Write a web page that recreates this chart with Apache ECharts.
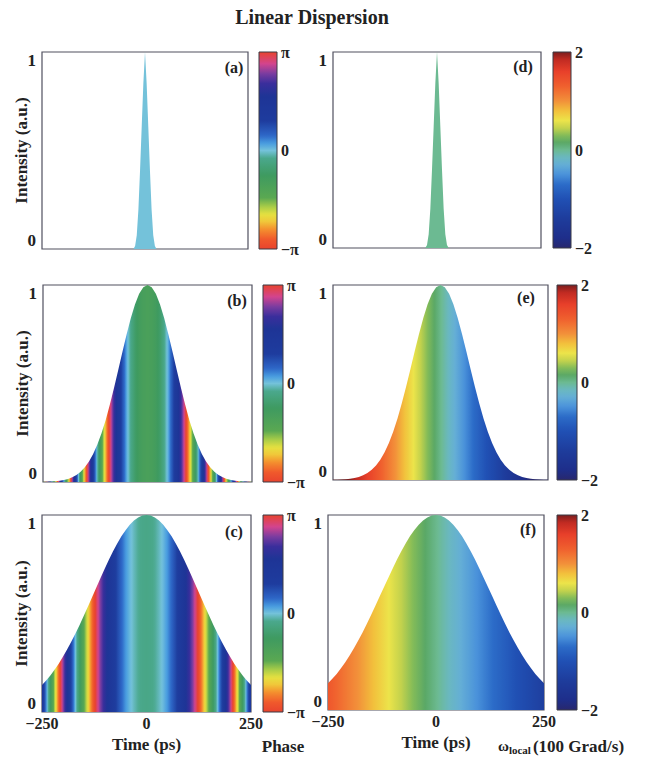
<!DOCTYPE html>
<html>
<head>
<meta charset="utf-8">
<script src="https://cdn.jsdelivr.net/npm/echarts@6/dist/echarts.min.js"></script>
<style>
  html, body { margin: 0; padding: 0; background: #ffffff; }
  #chart { width: 648px; height: 758px; }
</style>
</head>
<body>
<div id="chart"></div>
<script>
// ---- pulse data -------------------------------------------------------
// time samples for the broadened pulses (ps)
const timePs = [-250, -240, -230, -220, -210, -200, -190, -180, -170, -160, -150, -140, -130, -120, -110, -100, -90, -80, -70, -60, -50, -40, -30, -20, -10,
  0, 10, 20, 30, 40, 50, 60, 70, 80, 90, 100, 110, 120, 130, 140, 150, 160, 170, 180, 190, 200, 210, 220, 230, 240, 250];

// intensity of the pulse at the first propagation distance, rows (b) and (e)
const intensityB = [0.0007, 0.0013, 0.0022, 0.0037, 0.0061, 0.0099, 0.0155, 0.0238, 0.0356, 0.0521, 0.0745, 0.104, 0.142, 0.190, 0.248, 0.315, 0.393, 0.478, 0.568, 0.660, 0.749, 0.831, 0.901, 0.955, 0.989,
  1.000, 0.989, 0.955, 0.901, 0.831, 0.749, 0.660, 0.568, 0.478, 0.393, 0.315, 0.248, 0.190, 0.142, 0.104, 0.0745, 0.0521, 0.0356, 0.0238, 0.0155, 0.0099, 0.0061, 0.0037, 0.0022, 0.0013, 0.0007];

// intensity of the pulse at the second propagation distance, rows (c) and (f)
const intensityC = [0.137, 0.160, 0.185, 0.214, 0.245, 0.280, 0.317, 0.356, 0.398, 0.442, 0.488, 0.536, 0.584, 0.632, 0.680, 0.727, 0.773, 0.816, 0.855, 0.892, 0.923, 0.950, 0.972, 0.987, 0.997,
  1.000, 0.997, 0.987, 0.972, 0.950, 0.923, 0.892, 0.855, 0.816, 0.773, 0.727, 0.680, 0.632, 0.584, 0.536, 0.488, 0.442, 0.398, 0.356, 0.317, 0.280, 0.245, 0.214, 0.185, 0.160, 0.137];

// unwrapped temporal phase, in units of pi
const phaseB = [9.65, 8.87, 8.11, 7.39, 6.71, 6.05, 5.43, 4.83, 4.27, 3.75, 3.25, 2.79, 2.35, 1.95, 1.59, 1.25, 0.95, 0.67, 0.43, 0.23, 0.05, -0.09, -0.21, -0.29, -0.33,
  -0.35, -0.33, -0.29, -0.21, -0.09, 0.05, 0.23, 0.43, 0.67, 0.95, 1.25, 1.59, 1.95, 2.35, 2.79, 3.25, 3.75, 4.27, 4.83, 5.43, 6.05, 6.71, 7.39, 8.11, 8.87, 9.65];
const phaseC = [4.46, 4.10, 3.76, 3.43, 3.12, 2.82, 2.54, 2.27, 2.01, 1.77, 1.54, 1.33, 1.13, 0.95, 0.78, 0.63, 0.49, 0.37, 0.26, 0.16, 0.08, 0.02, -0.03, -0.07, -0.09,
  -0.10, -0.09, -0.07, -0.03, 0.02, 0.08, 0.16, 0.26, 0.37, 0.49, 0.63, 0.78, 0.95, 1.13, 1.33, 1.54, 1.77, 2.01, 2.27, 2.54, 2.82, 3.12, 3.43, 3.76, 4.10, 4.46];

// local angular frequency, in units of 100 Grad/s
const freqTimes = [-250, -200, -150, -100, -50, 0, 50, 100, 150, 200, 250];
const freqE = [2.35, 1.88, 1.42, 0.95, 0.48, 0.02, -0.45, -0.93, -1.40, -1.88, -2.35];
const freqF = [1.38, 1.10, 0.83, 0.55, 0.28, 0.02, -0.26, -0.53, -0.80, -1.08, -1.35];

// input (transform-limited) pulse, rows (a) and (d)
const timeNarrow = [-250, -28, -24, -20, -16, -12, -8, -4, 0, 4, 8, 12, 16, 20, 24, 28, 250];
const intensityA = [0, 0, 0.015, 0.07, 0.20, 0.40, 0.62, 0.84, 1, 0.84, 0.62, 0.40, 0.20, 0.07, 0.015, 0, 0];
const phaseA = 0.0;
const freqD = 0.0;

// axis tick labels
const timeTicks = [-250, 0, 250];
const phaseTickLabels = { '-1': '\u2212\u03c0', '0': '0', '1': '\u03c0' };
const freqTickLabels = { '-2': '\u22122', '0': '0', '2': '2' };

// ---- colour maps -----------------------------------------------------
// cyclic phase map, position in units of pi
const phaseMap = [
  [-1.00, '#e8432e'], [-0.90, '#f05a2c'], [-0.80, '#f4902e'], [-0.72, '#f0c83a'], [-0.65, '#e6e040'],
  [-0.57, '#a8cc48'], [-0.48, '#5aa852'], [-0.25, '#3e9a60'], [-0.08, '#4aa88c'], [0.00, '#74c2da'],
  [0.07, '#4a9ee0'], [0.15, '#2e68c8'], [0.30, '#1e3c9e'], [0.55, '#1e3496'], [0.68, '#3a2e9c'],
  [0.78, '#7a3ca0'], [0.88, '#d2448e'], [1.00, '#e8432e']
];
// local frequency map, -2 .. 2
const freqMap = [
  [-2.0, '#28286e'], [-1.8, '#1e2e8a'], [-1.4, '#1e3c9c'], [-1.0, '#2050b4'], [-0.7, '#2c6cc8'],
  [-0.5, '#4a92da'], [-0.3, '#64aed6'], [-0.15, '#6ab8c0'], [0.0, '#6cba92'], [0.15, '#5aa866'],
  [0.3, '#84bc58'], [0.45, '#c4d24c'], [0.6, '#ece44a'], [0.8, '#f2c03c'], [1.0, '#f2903a'],
  [1.3, '#f0602e'], [1.6, '#e8402a'], [1.85, '#c02a22'], [2.0, '#7a1e1e']
];

function hexRgb(h) { return [parseInt(h.slice(1, 3), 16), parseInt(h.slice(3, 5), 16), parseInt(h.slice(5, 7), 16)]; }
function mapColor(map, v) {
  if (v <= map[0][0]) return map[0][1];
  if (v >= map[map.length - 1][0]) return map[map.length - 1][1];
  for (let i = 0; i < map.length - 1; i++) {
    const a = map[i], b = map[i + 1];
    if (v >= a[0] && v <= b[0]) {
      const f = (v - a[0]) / (b[0] - a[0]);
      const ca = hexRgb(a[1]), cb = hexRgb(b[1]);
      const c = ca.map((x, k) => Math.round(x + (cb[k] - x) * f));
      return 'rgb(' + c.join(',') + ')';
    }
  }
  return map[0][1];
}
function phaseColor(p) {
  const w = ((((p + 1) % 2) + 2) % 2) - 1;
  return mapColor(phaseMap, w);
}
function freqColor(f) { return mapColor(freqMap, f); }
function sampleAt(xs, ys, x) {
  if (x <= xs[0]) return ys[0];
  for (let i = 0; i < xs.length - 1; i++) {
    if (x <= xs[i + 1]) return ys[i] + (ys[i + 1] - ys[i]) * (x - xs[i]) / (xs[i + 1] - xs[i]);
  }
  return ys[ys.length - 1];
}
// colour list along the time axis for a visualMap (stops every 2.5 ps)
function colourRamp(xs, vals, toColor) {
  const out = [];
  for (let i = 0; i <= 200; i++) out.push(toColor(sampleAt(xs, vals, -250 + 2.5 * i)));
  return out;
}
function gradientStops(map, lo, hi) {
  const stops = [];
  for (let i = 0; i <= 100; i++) {
    const v = lo + (hi - lo) * i / 100;
    stops.push({ offset: i / 100, color: mapColor(map, v) });
  }
  return stops;
}

// ---- layout ----------------------------------------------------------
const FONT = 'Liberation Serif';
const INK = '#222222';
const panels = [
  { label: '(a)', grid: { left: 42, top: 52, width: 206, height: 197 }, cb: { left: 259, top: 52, width: 18, height: 197 }, kind: 'phase', leftCol: true, bottom: false, tag: [234, 67] },
  { label: '(d)', grid: { left: 333, top: 52, width: 208, height: 196 }, cb: { left: 553, top: 52, width: 18, height: 196 }, kind: 'freq', leftCol: false, bottom: false, tag: [523, 66] },
  { label: '(b)', grid: { left: 43, top: 285, width: 209, height: 197 }, cb: { left: 263, top: 285, width: 20, height: 197 }, kind: 'phase', leftCol: true, bottom: false, tag: [237, 300] },
  { label: '(e)', grid: { left: 333, top: 285, width: 215, height: 195 }, cb: { left: 557, top: 285, width: 20, height: 195 }, kind: 'freq', leftCol: false, bottom: false, tag: [526, 297] },
  { label: '(c)', grid: { left: 42, top: 515, width: 209, height: 197 }, cb: { left: 263, top: 515, width: 20, height: 197 }, kind: 'phase', leftCol: true, bottom: true, tag: [234, 531] },
  { label: '(f)', grid: { left: 328, top: 515, width: 216, height: 195 }, cb: { left: 557, top: 515, width: 20, height: 195 }, kind: 'freq', leftCol: false, bottom: true, tag: [528, 529] }
];
// what each panel draws
const panelData = [
  { t: timeNarrow, i: intensityA, solid: phaseColor(phaseA) },
  { t: timeNarrow, i: intensityA, solid: freqColor(freqD) },
  { t: timePs, i: intensityB, ramp: colourRamp(timePs, phaseB, phaseColor) },
  { t: timePs, i: intensityB, ramp: colourRamp(freqTimes, freqE, freqColor) },
  { t: timePs, i: intensityC, ramp: colourRamp(timePs, phaseC, phaseColor) },
  { t: timePs, i: intensityC, ramp: colourRamp(freqTimes, freqF, freqColor) }
];

const tickStyle = { fontFamily: FONT, fontWeight: 'bold', fontSize: 16, color: INK };
const nameStyle = { fontFamily: FONT, fontWeight: 'bold', fontSize: 17, color: INK };
const grids = [], xAxes = [], yAxes = [], series = [], visualMaps = [];

panels.forEach((p, i) => {
  grids.push(Object.assign({ show: true, borderColor: '#50505f', borderWidth: 1.2, backgroundColor: 'transparent' }, p.grid));
  xAxes.push({
    gridIndex: i, type: 'value', min: timeTicks[0], max: timeTicks[2], interval: 250,
    axisLine: { show: false }, axisTick: { show: false }, splitLine: { show: false },
    axisLabel: Object.assign({ show: p.bottom, margin: 3, formatter: v => (v < 0 ? '\u2212' + Math.abs(v) : String(v)) }, tickStyle),
    name: p.bottom ? 'Time (ps)' : '', nameLocation: 'middle', nameGap: 24, nameMoveOverlap: false,
    nameTextStyle: nameStyle
  });
  yAxes.push({
    gridIndex: i, type: 'value', min: 0, max: 1, interval: 1,
    axisLine: { show: false }, axisTick: { show: false }, splitLine: { show: false },
    axisLabel: Object.assign({ margin: 6, verticalAlignMinLabel: 'bottom', verticalAlignMaxLabel: 'top' }, tickStyle, { fontSize: 17 }),
    name: p.leftCol ? 'Intensity (a.u.)' : '', nameLocation: 'middle', nameGap: 12, nameRotate: 90, nameMoveOverlap: false,
    nameTextStyle: nameStyle
  });
  const d = panelData[i];
  const s = {
    type: 'line', xAxisIndex: i, yAxisIndex: i,
    data: d.t.map((t, k) => [t, d.i[k]]),
    symbol: 'none', silent: true, animation: false,
    lineStyle: { width: 0, opacity: 0 },
    areaStyle: { opacity: 1 }
  };
  if (d.solid) {
    s.itemStyle = { color: d.solid };
    s.areaStyle.color = d.solid;
  } else {
    visualMaps.push({
      type: 'continuous', show: false, seriesIndex: series.length, dimension: 0,
      min: -250, max: 250, inRange: { color: d.ramp }
    });
  }
  series.push(s);
});

// colour bars
panels.forEach((p, i) => {
  const gi = panels.length + i;
  const isPhase = p.kind === 'phase';
  const lo = isPhase ? -1 : -2, hi = isPhase ? 1 : 2;
  const stops = gradientStops(isPhase ? phaseMap : freqMap, lo, hi);
  grids.push(Object.assign({ show: false }, p.cb));
  xAxes.push({ gridIndex: gi, type: 'value', min: 0, max: 1, show: false });
  yAxes.push({
    gridIndex: gi, type: 'value', position: 'right', min: lo, max: hi, interval: hi,
    axisLine: { show: false }, axisTick: { show: false }, splitLine: { show: false },
    axisLabel: Object.assign({ margin: 4, formatter: v => (isPhase ? phaseTickLabels[String(v)] : freqTickLabels[String(v)]) }, tickStyle)
  });
  series.push({
    type: 'custom', xAxisIndex: gi, yAxisIndex: gi, silent: true, animation: false,
    data: [[0, lo, 1, hi]],
    renderItem: (params, api) => {
      const a = api.coord([api.value(0), api.value(1)]);
      const b = api.coord([api.value(2), api.value(3)]);
      return {
        type: 'rect',
        shape: { x: a[0], y: b[1], width: b[0] - a[0], height: a[1] - b[1] },
        style: { fill: new echarts.graphic.LinearGradient(0, 1, 0, 0, stops), stroke: '#3a3a44', lineWidth: 1 }
      };
    }
  });
});

const graphics = [
  { type: 'text', style: { text: 'Linear Dispersion', x: 312, y: 17, align: 'center', verticalAlign: 'middle', font: 'bold 20px "' + FONT + '"', fill: INK } },
  { type: 'text', style: { text: 'Phase', x: 283, y: 746, align: 'center', verticalAlign: 'middle', font: 'bold 17px "' + FONT + '"', fill: INK } },
  {
    type: 'text', style: {
      x: 561, y: 746, align: 'center', verticalAlign: 'middle',
      text: '{w|\u03c9}{s|local}{n|(100 Grad/s)}',
      rich: {
        w: { fontFamily: FONT, fontWeight: 'bold', fontSize: 15, fill: INK },
        s: { fontFamily: FONT, fontWeight: 'bold', fontSize: 11, fill: INK, verticalAlign: 'bottom', padding: [7, 2, 0, 0] },
        n: { fontFamily: FONT, fontWeight: 'bold', fontSize: 17, fill: INK }
      }
    }
  }
];
panels.forEach(p => {
  graphics.push({ type: 'text', style: { text: p.label, x: p.tag[0], y: p.tag[1], align: 'center', verticalAlign: 'middle', font: 'bold 16px "' + FONT + '"', fill: INK } });
});

const chart = echarts.init(document.getElementById('chart'), null, { renderer: 'svg', width: 648, height: 758 });
chart.setOption({
  animation: false,
  backgroundColor: '#ffffff',
  grid: grids,
  xAxis: xAxes,
  yAxis: yAxes,
  visualMap: visualMaps,
  series: series,
  graphic: graphics
});
</script>
</body>
</html>
